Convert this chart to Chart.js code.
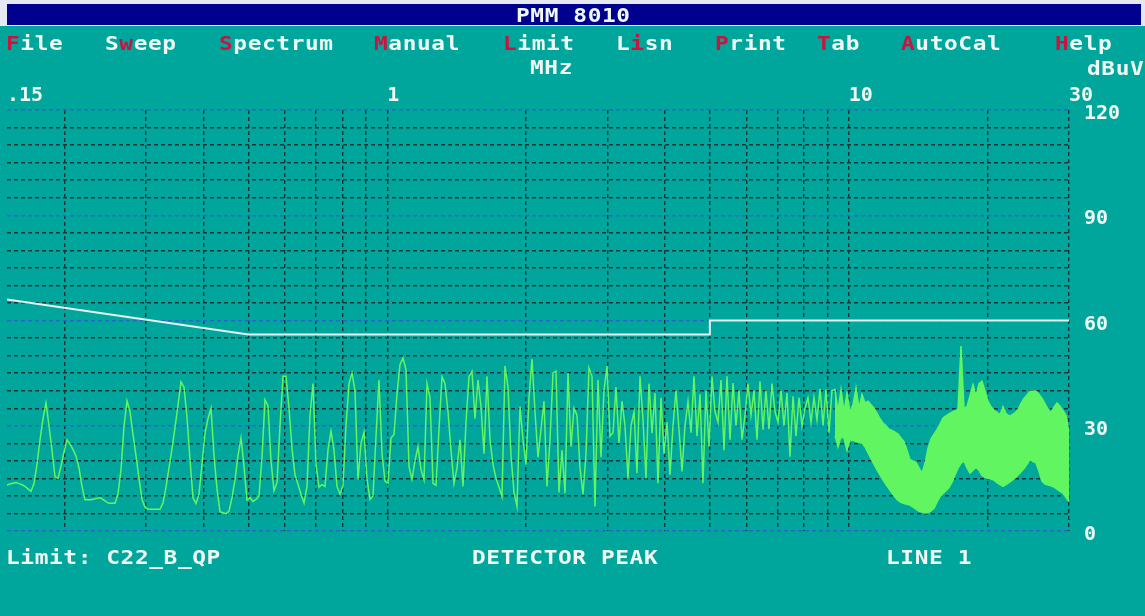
<!DOCTYPE html>
<html>
<head>
<meta charset="utf-8">
<title>PMM 8010</title>
<script src="https://cdn.jsdelivr.net/npm/chart.js@4.4.0/dist/chart.umd.min.js"></script>
<style>
  html, body { margin: 0; padding: 0; }
  body {
    width: 1145px; height: 616px; position: relative; overflow: hidden;
    background: #00a69c;
    font-family: 'DejaVu Sans Mono', monospace; font-weight: bold; font-size: 19px;
    color: #eef8f4;
  }
  #frame { position: absolute; left: 0; top: 0; width: 1145px; height: 26px; background: #e4e8f0; }
  #titlebar { position: absolute; left: 7px; top: 4px; width: 1134px; height: 21px; background: #00008e; }
  .t {
    position: absolute; white-space: pre; line-height: 20px; letter-spacing: 0.5px; z-index: 2;
    transform: scaleX(1.2); transform-origin: 0 0;
  }
  .hk { color: #c8143e; }
  canvas { position: absolute; left: 0; top: 0; z-index: 1; }
</style>
</head>
<body>
<div id="frame"></div>
<div id="titlebar"></div>
<div class="t" style="left:516px; top:5px;">PMM 8010</div>

<div class="t" style="left:6px; top:33px;"><span class="hk">F</span>ile</div>
<div class="t" style="left:105px; top:33px;">S<span class="hk">w</span>eep</div>
<div class="t" style="left:219px; top:33px;"><span class="hk">S</span>pectrum</div>
<div class="t" style="left:374px; top:33px;"><span class="hk">M</span>anual</div>
<div class="t" style="left:503px; top:33px;"><span class="hk">L</span>imit</div>
<div class="t" style="left:616px; top:33px;">L<span class="hk">i</span>sn</div>
<div class="t" style="left:715px; top:33px;"><span class="hk">P</span>rint</div>
<div class="t" style="left:817px; top:33px;"><span class="hk">T</span>ab</div>
<div class="t" style="left:901px; top:33px;"><span class="hk">A</span>utoCal</div>
<div class="t" style="left:1055px; top:33px;"><span class="hk">H</span>elp</div>

<div class="t" style="left:530px; top:57px;">MHz</div>
<div class="t" style="left:1087px; top:58px;">dBuV</div>

<div class="t" style="left:6px; top:547px;">Limit: C22_B_QP</div>
<div class="t" style="left:472px; top:547px;">DETECTOR PEAK</div>
<div class="t" style="left:886px; top:547px;">LINE 1</div>

<canvas id="spectrum" width="1145" height="616"></canvas>

<script>
// sweep: 0.15 - 30 MHz, log spaced points
var START_MHZ = 0.15;
var STOP_MHZ = 30;

// measured level per sweep point, dBuV (peak detector)
var traceLevels = [
    13.1, 13.4, 13.6, 13.8, 13.5, 13.2, 12.7, 12.0, 11.3, 13.5,
    19.0, 26.0, 32.0, 36.5, 30.0, 23.0, 15.5, 15.0, 18.5, 22.5,
    26.0, 24.8, 23.2, 21.4, 18.0, 12.7, 8.9, 8.9, 8.9, 9.1,
    9.3, 9.5, 9.0, 8.4, 7.9, 7.9, 7.9, 10.5, 17.5, 29.8,
    37.1, 34.0, 27.5, 21.5, 15.0, 9.0, 6.8, 6.2, 6.2, 6.2,
    6.2, 6.2, 8.0, 12.5, 18.0, 23.5, 29.5, 35.8, 42.5, 41.0,
    32.5, 20.3, 9.5, 7.8, 10.5, 19.0, 27.9, 32.0, 35.0, 21.5,
    12.0, 5.5, 5.2, 4.9, 5.7, 9.5, 14.6, 21.5, 26.5, 18.4,
    8.8, 9.5, 8.4, 9.0, 10.0, 21.0, 37.4, 35.7, 20.0, 11.5,
    13.8, 30.0, 44.1, 44.1, 35.0, 23.5, 16.0, 13.3, 10.5, 8.0,
    12.7, 33.0, 42.0, 19.0, 12.5, 13.2, 12.7, 23.1, 28.5, 23.1,
    12.7, 10.5, 13.0, 30.0, 42.0, 45.0, 40.0, 14.6, 25.0, 28.2,
    15.0, 9.0, 10.0, 27.0, 43.0, 22.0, 14.2, 13.6, 26.5, 27.5,
    39.0, 47.5, 49.3, 46.0, 18.4, 14.8, 20.0, 24.0, 17.5, 14.6,
    42.0, 38.0, 13.6, 13.0, 29.0, 44.0, 42.0, 34.0, 23.0, 13.5,
    18.0, 26.0, 12.7, 31.0, 44.0, 45.5, 32.0, 43.0, 35.5, 22.0,
    44.1, 26.0, 19.0, 15.0, 12.5, 9.8, 47.0, 41.0, 21.5, 11.0,
    7.0, 35.5, 26.0, 19.0, 38.0, 49.0, 34.0, 21.0, 29.0, 37.0,
    12.7, 26.0, 45.0, 45.5, 11.0, 23.1, 10.8, 45.0, 24.0, 35.0,
    33.0, 18.0, 10.5, 22.0, 46.5, 44.1, 7.0, 43.1, 21.0, 40.0,
    47.0, 27.0, 28.0, 41.0, 25.0, 37.0, 30.0, 15.0, 30.0, 34.0,
    16.5, 44.1, 31.7, 15.0, 42.0, 27.9, 39.3, 13.6, 38.0, 22.0,
    31.0, 16.0, 30.0, 40.0, 29.0, 17.0, 30.0, 37.0, 28.0, 44.1,
    27.0, 39.0, 13.6, 40.0, 24.0, 44.0, 34.0, 31.0, 43.0, 23.0,
    44.1, 26.0, 42.2, 30.0, 40.0, 26.0, 33.0, 42.0, 33.0, 40.0,
    26.0, 42.7, 28.9, 40.0, 29.0, 42.0, 34.0, 31.0, 40.0, 30.0,
    39.3, 21.2, 38.4, 27.0, 38.0, 30.0, 35.0, 38.0, 31.0, 38.0,
    31.7, 40.5, 30.0, 40.3, 28.0, 40.0, 40.3, 34.0, 40.3, 34.0,
    39.3, 34.0, 36.0, 40.8, 35.0, 38.9, 36.5, 37.0, 36.0, 35.0,
    33.6, 32.0, 30.8, 30.0, 29.0, 28.7, 28.2, 27.6, 26.5, 25.5,
    23.0, 20.3, 20.0, 19.5, 18.0, 16.5, 19.3, 23.5, 26.3, 27.6,
    28.9, 30.5, 32.2, 32.8, 33.4, 33.9, 34.3, 34.6, 52.7, 34.8,
    35.5, 38.6, 41.7, 38.5, 42.0, 42.7, 40.0, 37.0, 35.4, 34.4,
    33.8, 33.1, 35.5, 33.5, 32.8, 33.1, 33.7, 34.6, 36.4, 37.8,
    38.8, 39.8, 39.8, 39.8, 39.0, 37.8, 36.3, 34.7, 33.8, 35.3,
    36.5, 35.6, 34.3, 33.0, 28.0
];

// above ~9 MHz the trace turns into a solid band: its lower edge
var BAND_START = 276;
var bandFloorLevels = [
    27.2, 24.0, 26.8, 26.5, 23.0, 26.0, 25.8, 25.5, 25.3, 25.0,
    24.0, 22.3, 20.6, 19.0, 17.4, 16.0, 14.6, 13.2, 12.0, 10.8,
    9.7, 8.7, 8.2, 7.8, 7.6, 7.4, 6.8, 6.2, 5.6, 5.4,
    5.1, 5.2, 5.7, 6.5, 8.2, 9.8, 10.7, 11.5, 12.4, 13.9,
    16.0, 17.9, 19.3, 20.0, 18.0, 16.5, 17.3, 18.1, 17.3, 15.8,
    15.3, 15.0, 14.8, 14.5, 13.8, 13.2, 12.7, 13.2, 13.8, 14.4,
    15.1, 16.0, 16.8, 17.8, 19.0, 20.3, 19.8, 19.4, 17.0, 14.2,
    13.4, 13.1, 12.9, 12.5, 11.9, 11.3, 10.8, 9.5, 8.4
];

// limit C22_B_QP
var limitFreqs = [0.15, 0.5, 5, 5, 30];
var limitLevels = [66, 56, 56, 60, 60];

var xGridFreqs = [0.15, 0.2, 0.3, 0.4, 0.5, 0.6, 0.7, 0.8, 0.9,
                  1, 2, 3, 4, 5, 6, 7, 8, 9, 10, 20, 30];
var xTickFreqs = [0.15, 1, 10, 30];
var xTickLabels = ['.15', '1', '10', '30'];
var yGridLevels = [0, 5, 10, 15, 20, 25, 30, 35, 40, 45, 50, 55, 60,
                   65, 70, 75, 80, 85, 90, 95, 100, 105, 110, 115, 120];
var yTickLevels = [0, 30, 60, 90, 120];

var TEXT = '#eef8f4';
var GRID_DARK = '#17363a';
var GRID_BLUE = '#2a66cc';
var TRACE = '#62f562';
var LIMIT = '#e6f2f2';
var FONT = { family: "'DejaVu Sans Mono', monospace", size: 20, weight: 'bold' };

var sweepFreqs = traceLevels.map(function (v, i) {
    return START_MHZ * Math.pow(STOP_MHZ / START_MHZ, i / (traceLevels.length - 1));
});

var tracePoints = traceLevels.map(function (v, i) {
    return { x: sweepFreqs[i], y: v };
});
var floorPoints = traceLevels.map(function (v, i) {
    var k = i - BAND_START;
    return { x: sweepFreqs[i], y: k >= 0 ? bandFloorLevels[k] : null };
});
var limitPoints = limitFreqs.map(function (f, i) {
    return { x: f, y: limitLevels[i] };
});

new Chart(document.getElementById('spectrum').getContext('2d'), {
    type: 'line',
    data: {
        datasets: [{
            label: 'Peak',
            data: tracePoints,
            borderColor: TRACE,
            borderWidth: 1.5,
            fill: false
        }, {
            label: 'Peak band',
            data: floorPoints,
            borderColor: TRACE,
            borderWidth: 1.5,
            backgroundColor: TRACE,
            fill: '-1'
        }, {
            label: 'C22_B_QP',
            data: limitPoints,
            borderColor: LIMIT,
            borderWidth: 2,
            fill: false
        }]
    },
    options: {
        responsive: false,
        animation: false,
        layout: { padding: { left: 7, top: 80, right: 0, bottom: 85 } },
        elements: {
            point: { radius: 0 },
            line: { tension: 0 }
        },
        plugins: {
            legend: { display: false },
            tooltip: { enabled: false }
        },
        scales: {
            x: {
                type: 'logarithmic',
                position: 'top',
                min: START_MHZ,
                max: STOP_MHZ,
                bounds: 'data',
                afterBuildTicks: function (scale) {
                    scale.ticks = xGridFreqs.map(function (v) { return { value: v }; });
                },
                afterFit: function (scale) { scale.height = 30; },
                grid: {
                    color: function (ctx) {
                        return ctx.tick && ctx.tick.value === START_MHZ ? 'rgba(0,0,0,0)' : GRID_DARK;
                    },
                    lineWidth: 1.4,
                    drawTicks: false
                },
                border: { display: false, dash: [4, 3] },
                ticks: {
                    autoSkip: false,
                    maxRotation: 0,
                    align: 'start',
                    padding: 2,
                    color: TEXT,
                    font: FONT,
                    callback: function (value) {
                        var k = xTickFreqs.indexOf(value);
                        return k >= 0 ? xTickLabels[k] : '';
                    }
                }
            },
            y: {
                position: 'right',
                min: 0,
                max: 120,
                afterBuildTicks: function (scale) {
                    scale.ticks = yGridLevels.map(function (v) { return { value: v }; });
                },
                afterFit: function (scale) { scale.width = 76; },
                grid: {
                    color: function (ctx) {
                        return ctx.tick && yTickLevels.indexOf(ctx.tick.value) >= 0 ? GRID_BLUE : GRID_DARK;
                    },
                    lineWidth: 1.4,
                    drawTicks: false
                },
                border: { display: false, dash: [4, 3] },
                ticks: {
                    autoSkip: false,
                    padding: 15,
                    labelOffset: 4,
                    color: TEXT,
                    font: FONT,
                    callback: function (value) {
                        return yTickLevels.indexOf(value) >= 0 ? String(value) : '';
                    }
                }
            }
        }
    }
});
</script>
</body>
</html>
